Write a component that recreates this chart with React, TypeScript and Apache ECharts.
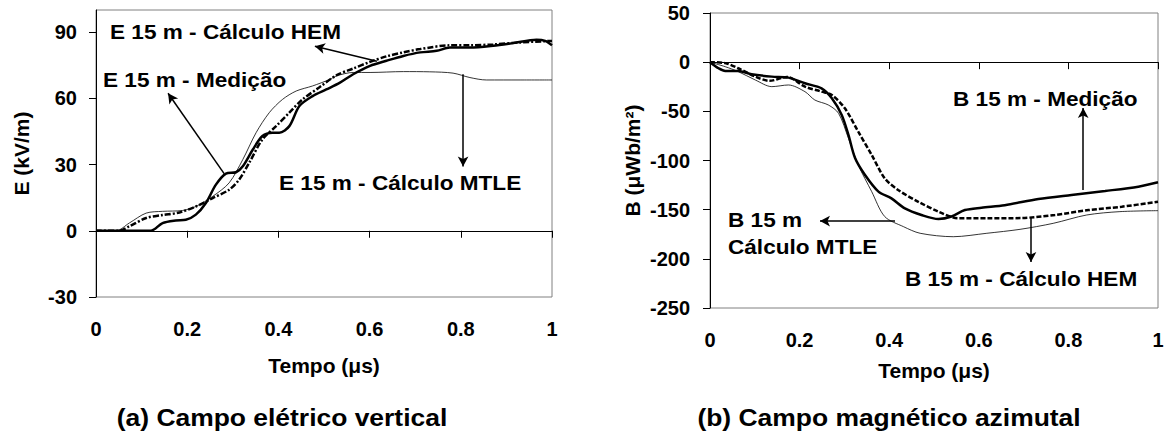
import React, { useEffect, useRef } from "react";
import * as echarts from "echarts";

// ---- Left chart (a): vertical electric field E (kV/m) vs time (µs)
const eMedT = [0, 0.06, 0.12, 0.146, 0.175, 0.197, 0.219, 0.241, 0.263, 0.285, 0.307, 0.322, 0.344, 0.365, 0.387, 0.402, 0.424, 0.446, 0.475, 0.505, 0.535, 0.564, 0.601, 0.637, 0.674, 0.711, 0.747, 0.776, 0.82, 0.871, 0.915, 0.966, 0.985, 1.0];
const eMedV = [0, 0, 0, 3.5, 4.7, 5, 7.3, 12.6, 20.9, 25.9, 26.5, 29.2, 36.8, 42.9, 44.4, 44.4, 47.4, 56.5, 61, 64, 67.1, 70.9, 74.7, 77, 79.2, 80.8, 81.5, 83, 83, 83.8, 85, 86.5, 86, 84];

const eHemT = [0, 0.05, 0.073, 0.11, 0.146, 0.183, 0.219, 0.256, 0.292, 0.314, 0.336, 0.365, 0.395, 0.424, 0.453, 0.49, 0.528, 0.564, 0.601, 0.637, 0.674, 0.711, 0.776, 0.82, 0.871, 0.93, 1.0];
const eHemV = [0, 0, 2, 5.8, 7.1, 8.3, 11, 14.8, 18.6, 23.2, 30.8, 41.4, 47.4, 53.5, 59.5, 65, 70.5, 73.5, 76.5, 79, 80.8, 82.3, 84, 84, 84.4, 85.3, 86];

const eMtleT = [0, 0.044, 0.073, 0.11, 0.146, 0.19, 0.219, 0.256, 0.292, 0.322, 0.351, 0.38, 0.409, 0.439, 0.475, 0.512, 0.528, 0.564, 0.601, 0.674, 0.732, 0.783, 0.82, 0.856, 0.93, 1.0];
const eMtleV = [0, 0, 3.5, 8, 8.8, 9.2, 11, 15.6, 21.7, 32.3, 44.4, 53.5, 59.5, 63.3, 65.6, 68.5, 70.2, 71.7, 71.7, 72.1, 72, 71.4, 69.4, 68.3, 68.3, 68.3];

// ---- Right chart (b): azimuthal magnetic field B (µWb/m²) vs time (µs)
const bMedT = [0, 0.019, 0.034, 0.063, 0.093, 0.138, 0.175, 0.212, 0.249, 0.272, 0.294, 0.309, 0.324, 0.346, 0.376, 0.405, 0.435, 0.472, 0.51, 0.539, 0.569, 0.606, 0.658, 0.733, 0.807, 0.882, 0.956, 1.0];
const bMedV = [0, -6.2, -9, -9, -12.3, -14.7, -15.7, -21.5, -26.6, -36.7, -53.7, -74, -97.8, -114.8, -131.7, -138.5, -148.7, -155.4, -159.5, -157, -150.4, -148, -145.4, -139.2, -135, -131, -126.6, -122.2];

const bHemT = [0, 0.034, 0.063, 0.101, 0.133, 0.172, 0.212, 0.249, 0.272, 0.301, 0.331, 0.361, 0.39, 0.42, 0.465, 0.51, 0.554, 0.621, 0.696, 0.77, 0.845, 0.919, 1.0];
const bHemV = [0, -1, -6.2, -14.7, -19, -15, -24.9, -30, -33.4, -46.9, -70.7, -94.4, -118.1, -130, -142, -152, -158.8, -158.8, -158.5, -155.4, -150.4, -147, -141.9];

const bMtleT = [0, 0.034, 0.063, 0.101, 0.138, 0.175, 0.212, 0.234, 0.264, 0.287, 0.309, 0.331, 0.361, 0.39, 0.432, 0.469, 0.543, 0.618, 0.692, 0.766, 0.841, 0.915, 1.0];
const bMtleV = [0, -4.6, -9.6, -18.1, -24.9, -23.2, -30, -38.5, -43.5, -52, -77.4, -104.6, -131.7, -157, -167.3, -174, -177.5, -174, -170, -163.9, -155.4, -152, -151];

// Axis ticks
const timeTicks = [0, 0.2, 0.4, 0.6, 0.8, 1];
const eTicks = [-30, 0, 30, 60, 90];
const bTicks = [-250, -200, -150, -100, -50, 0, 50];

// Annotation arrows (data coordinates: [from], [to])
const eArrows = [
  [[0.616, 76.8], [0.48, 83.6]],
  [[0.281, 25.9], [0.158, 62.3]],
  [[0.805, 70.9], [0.805, 29.1]],
];
const bArrows = [
  [[0.833, -130], [0.833, -46.6]],
  [[0.413, -161.6], [0.2455, -161.6]],
  [[0.7165, -157.5], [0.7165, -203.3]],
];

// Annotation texts
const annotationTexts = [
  "E 15 m - Cálculo HEM",
  "E 15 m - Medição",
  "E 15 m - Cálculo MTLE",
  "B 15 m - Medição",
  "B 15 m",
  "Cálculo MTLE",
  "B 15 m - Cálculo HEM",
];
const captions = ["(a) Campo elétrico vertical", "(b) Campo magnético azimutal"];

const FONT = '"Liberation Sans", Arial, Helvetica, sans-serif';

function pairs(t: number[], v: number[]) {
  return t.map((x, i) => [x, v[i]]);
}

export default function App() {
  const ref = useRef<HTMLDivElement>(null);

  useEffect(() => {
    if (!ref.current) return;
    const chart = echarts.init(ref.current, null, { renderer: "svg" });

    const labelStyle = { color: "#000", fontSize: 20, fontWeight: "bold", fontFamily: FONT };
    const nameStyle = { color: "#000", fontSize: 21, fontWeight: "bold", fontFamily: FONT };

    const labelAxis = (gridIndex: number, nameGap: number) => ({
      gridIndex,
      type: "value",
      min: 0,
      max: 1,
      interval: 0.2,
      position: "bottom",
      axisLine: { show: false, onZero: false },
      axisTick: { show: false },
      splitLine: { show: false },
      axisLabel: { ...labelStyle, margin: 22 },
      name: "Tempo (μs)",
      nameLocation: "middle",
      nameGap,
      nameTextStyle: nameStyle,
    });
    const zeroAxis = (gridIndex: number) => ({
      gridIndex,
      type: "value",
      min: 0,
      max: 1,
      interval: 0.2,
      position: "bottom",
      axisLine: { show: true, onZero: true, lineStyle: { color: "#000", width: 1 } },
      axisTick: { show: true, inside: false, length: 7, lineStyle: { color: "#000", width: 1 }, customValues: timeTicks },
      axisLabel: { show: false },
      splitLine: { show: false },
    });

    const arrowLine = (arrows: number[][][]) => ({
      silent: true,
      symbol: ["none", "arrow"],
      symbolSize: [8, 10],
      label: { show: false },
      lineStyle: { color: "#000", width: 1.5, type: "solid" },
      emphasis: { disabled: true },
      data: arrows.map((a) => [{ coord: a[0] }, { coord: a[1] }]),
    });

    const lineSeries = (
      name: string,
      data: number[][],
      axisIdx: number,
      yIdx: number,
      width: number,
      dash: any,
      extra: any = {}
    ) => ({
      type: "line",
      name,
      xAxisIndex: axisIdx,
      yAxisIndex: yIdx,
      data,
      symbol: "none",
      showSymbol: false,
      smooth: 0.3,
      lineStyle: { color: "#000", width, type: dash },
      emphasis: { disabled: true },
      z: width > 2 ? 3 : 2,
      ...extra,
    });

    const annPos = [
      [110, 32],
      [103, 80],
      [279, 183],
      [953, 99],
      [728, 220],
      [728, 247],
      [905, 279],
    ];
    const graphics: any[] = annotationTexts.map((t, i) => ({
      type: "text",
      x: annPos[i][0],
      y: annPos[i][1],
      scaleX: 1.13,
      silent: true,
      style: {
        text: t,
        fill: "#000",
        fontSize: 20,
        fontWeight: "bold",
        fontFamily: FONT,
        textAlign: "left",
        textVerticalAlign: "middle",
      },
    }));
    const capPos = [
      [282, 418],
      [889, 418],
    ];
    captions.forEach((c, i) => {
      graphics.push({
        type: "text",
        x: capPos[i][0],
        y: capPos[i][1],
        scaleX: 1.15,
        silent: true,
        style: {
          text: c,
          fill: "#000",
          fontSize: 23,
          fontWeight: "bold",
          fontFamily: FONT,
          textAlign: "center",
          textVerticalAlign: "middle",
        },
      });
    });

    const option: any = {
      animation: false,
      backgroundColor: "#fff",
      textStyle: { fontFamily: FONT },
      grid: [
        { left: 96, top: 10, width: 456, height: 287, show: true, borderColor: "#808080", borderWidth: 1, backgroundColor: "transparent" },
        { left: 710, top: 13, width: 448, height: 295, show: true, borderColor: "#808080", borderWidth: 1, backgroundColor: "transparent" },
      ],
      xAxis: [labelAxis(0, 58), zeroAxis(0), labelAxis(1, 52), zeroAxis(1)],
      yAxis: [
        {
          gridIndex: 0,
          type: "value",
          min: -30,
          max: 100,
          interval: 30,
          position: "left",
          axisLine: { show: true, onZero: false, lineStyle: { color: "#000", width: 1 } },
          axisTick: { show: true, length: 7, lineStyle: { color: "#000" }, customValues: eTicks },
          axisLabel: { ...labelStyle, margin: 19, customValues: eTicks },
          splitLine: { show: false },
          name: "E (kV/m)",
          nameLocation: "middle",
          nameGap: 64,
          nameTextStyle: nameStyle,
        },
        {
          gridIndex: 1,
          type: "value",
          min: -250,
          max: 50,
          interval: 50,
          position: "left",
          axisLine: { show: true, onZero: false, lineStyle: { color: "#000", width: 1 } },
          axisTick: { show: true, length: 7, lineStyle: { color: "#000" }, customValues: bTicks },
          axisLabel: { ...labelStyle, margin: 20, customValues: bTicks },
          splitLine: { show: false },
          name: "B (μWb/m²)",
          nameLocation: "middle",
          nameGap: 67,
          nameTextStyle: nameStyle,
        },
      ],
      series: [
        lineSeries("E 15 m - Cálculo MTLE", pairs(eMtleT, eMtleV), 0, 0, 0.8, "solid", { markLine: arrowLine(eArrows) }),
        lineSeries("E 15 m - Cálculo HEM", pairs(eHemT, eHemV), 0, 0, 2.5, [6, 2, 2, 2]),
        lineSeries("E 15 m - Medição", pairs(eMedT, eMedV), 0, 0, 2.5, "solid"),
        lineSeries("B 15 m - Cálculo MTLE", pairs(bMtleT, bMtleV), 2, 1, 0.8, "solid", { markLine: arrowLine(bArrows) }),
        lineSeries("B 15 m - Cálculo HEM", pairs(bHemT, bHemV), 2, 1, 2.5, [5, 2]),
        lineSeries("B 15 m - Medição", pairs(bMedT, bMedV), 2, 1, 2.5, "solid"),
      ],
      graphic: graphics,
    };

    chart.setOption(option);
    return () => chart.dispose();
  }, []);

  return (
    <div
      ref={ref}
      style={{ position: "absolute", left: 0, top: 0, width: 1169, height: 436, background: "#fff" }}
    />
  );
}
